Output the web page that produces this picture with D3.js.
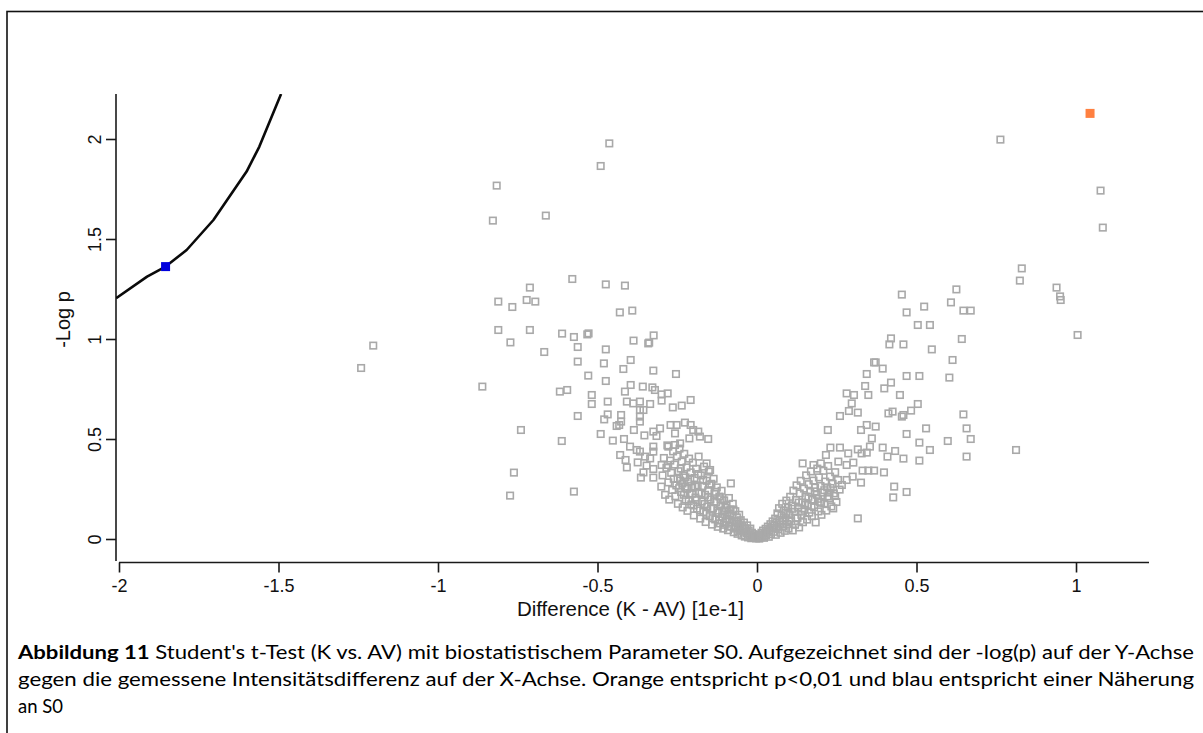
<!DOCTYPE html>
<html>
<head>
<meta charset="utf-8">
<script src="https://cdn.jsdelivr.net/npm/d3@7"></script>
<style>
  html, body { margin: 0; padding: 0; background: #fff; }
  svg { display: block; }
</style>
</head>
<body>
<svg id="chart" width="1203" height="733"></svg>
<script>
// Axis ticks
const xTicks = [-2, -1.5, -1, -0.5, 0, 0.5, 1];
const xTickLabels = ["-2", "-1.5", "-1", "-0.5", "0", "0.5", "1"];
const yTicks = [0, 0.5, 1, 1.5, 2];
const yTickLabels = ["0", "0.5", "1", "1.5", "2"];

// S0 threshold curve (difference, -log p)
const s0CurveX = [-2.009, -1.912, -1.854, -1.788, -1.704, -1.600, -1.560, -1.492];
const s0CurveY = [1.204, 1.312, 1.362, 1.445, 1.595, 1.837, 1.962, 2.225];

// highlighted proteins
const orangePoints = [[1.044, 2.128]];
const bluePoints = [[-1.854, 1.362]];

// proteins with negative difference: [difference, -log p]
const proteinsLeft = [
  [-1.241,0.855],[-1.203,0.967],[-0.861,0.762],
  [-0.463,1.978],[-0.490,1.865],[-0.816,1.767],[-0.828,1.592],[-0.662,1.617],
  [-0.579,1.300],[-0.712,1.257],[-0.474,1.273],[-0.414,1.267],
  [-0.811,1.187],[-0.767,1.160],[-0.722,1.195],[-0.695,1.187],[-0.430,1.133],[-0.391,1.142],
  [-0.811,1.045],[-0.712,1.045],[-0.611,1.027],[-0.574,1.010],[-0.532,1.023],[-0.528,1.028],
  [-0.387,0.992],[-0.324,1.018],[-0.341,0.978],[-0.338,0.982],[-0.773,0.983],[-0.562,0.960],
  [-0.474,0.948],[-0.667,0.935],
  [-0.562,0.887],[-0.480,0.878],[-0.396,0.895],[-0.419,0.850],[-0.325,0.842],[-0.254,0.825],
  [-0.529,0.817],[-0.474,0.790],
  [-0.618,0.737],[-0.595,0.745],[-0.518,0.720],[-0.518,0.675],[-0.468,0.687],[-0.396,0.770],
  [-0.358,0.762],[-0.414,0.737],[-0.328,0.758],[-0.320,0.745],[-0.299,0.723],[-0.280,0.728],
  [-0.299,0.692],[-0.408,0.687],[-0.388,0.678],[-0.367,0.687],[-0.335,0.675],[-0.367,0.645],
  [-0.356,0.645],[-0.264,0.658],[-0.236,0.667],[-0.208,0.695],
  [-0.562,0.615],[-0.468,0.623],[-0.479,0.598],[-0.426,0.620],[-0.426,0.587],[-0.440,0.565],
  [-0.432,0.570],[-0.367,0.612],[-0.367,0.587],
  [-0.740,0.545],[-0.612,0.490],[-0.490,0.525],[-0.452,0.492],[-0.417,0.500],[-0.386,0.545],
  [-0.353,0.518],[-0.325,0.537],[-0.304,0.553],[-0.315,0.515],
  [-0.271,0.570],[-0.252,0.570],[-0.226,0.582],[-0.208,0.570],[-0.257,0.528],[-0.200,0.545],
  [-0.184,0.537],[-0.153,0.500],[-0.212,0.503],[-0.179,0.512],
  [-0.278,0.462],[-0.257,0.470],[-0.241,0.478],[-0.325,0.462],[-0.325,0.437],[-0.398,0.462],
  [-0.377,0.445],[-0.367,0.437],
  [-0.429,0.420],[-0.412,0.395],[-0.408,0.358],[-0.374,0.383],[-0.351,0.412],[-0.335,0.403],
  [-0.346,0.367],[-0.325,0.350],[-0.364,0.307],[-0.325,0.307],[-0.356,0.333],[-0.299,0.370],
  [-0.280,0.370],
  [-0.082,0.278],[-0.158,0.378],[-0.147,0.345],[-0.774,0.217],[-0.762,0.332],[-0.574,0.237],
  // dense arm towards zero
  [-0.300,0.262],[-0.296,0.318],[-0.292,0.405],[-0.288,0.221],[-0.284,0.356],[-0.281,0.468],
  [-0.278,0.283],[-0.275,0.197],[-0.272,0.392],[-0.269,0.331],[-0.266,0.245],[-0.263,0.438],
  [-0.261,0.301],[-0.258,0.372],[-0.256,0.214],[-0.253,0.268],[-0.251,0.413],[-0.248,0.176],
  [-0.246,0.339],[-0.243,0.452],[-0.241,0.292],[-0.238,0.235],[-0.236,0.387],[-0.233,0.158],
  [-0.231,0.318],[-0.228,0.426],[-0.226,0.262],[-0.223,0.197],[-0.221,0.358],[-0.218,0.141],
  [-0.216,0.287],[-0.213,0.402],[-0.211,0.228],[-0.208,0.333],[-0.206,0.173],[-0.203,0.256],
  [-0.201,0.382],[-0.198,0.118],[-0.196,0.305],[-0.193,0.207],[-0.191,0.351],[-0.188,0.152],
  [-0.186,0.268],[-0.183,0.412],[-0.181,0.231],[-0.178,0.102],[-0.176,0.318],[-0.173,0.187],
  [-0.171,0.264],[-0.168,0.135],[-0.166,0.362],[-0.163,0.221],[-0.161,0.085],[-0.158,0.291],
  [-0.156,0.162],[-0.153,0.243],[-0.151,0.337],[-0.148,0.114],[-0.146,0.198],[-0.143,0.276],
  [-0.141,0.072],[-0.138,0.152],[-0.136,0.301],[-0.133,0.226],[-0.131,0.098],[-0.128,0.184],
  [-0.126,0.258],[-0.123,0.061],[-0.121,0.131],[-0.118,0.212],[-0.116,0.078],[-0.113,0.167],
  [-0.111,0.241],[-0.108,0.112],[-0.106,0.052],[-0.103,0.193],[-0.101,0.143],[-0.098,0.086],
  [-0.096,0.168],[-0.093,0.121],[-0.091,0.044],[-0.088,0.205],[-0.086,0.097],[-0.083,0.148],
  [-0.081,0.062],[-0.078,0.118],[-0.076,0.176],[-0.073,0.034],[-0.071,0.089],[-0.068,0.139],
  [-0.066,0.058],[-0.063,0.108],[-0.061,0.026],[-0.058,0.078],[-0.056,0.121],[-0.053,0.045],
  [-0.051,0.094],[-0.048,0.018],[-0.046,0.066],[-0.043,0.037],[-0.041,0.082],[-0.038,0.012],
  [-0.036,0.054],[-0.033,0.028],[-0.031,0.068],[-0.028,0.008],[-0.026,0.042],[-0.023,0.019],
  [-0.021,0.052],[-0.018,0.004],[-0.016,0.031],[-0.013,0.012],[-0.011,0.024],[-0.008,0.006],
  [-0.006,0.015],[-0.003,0.003],[-0.001,0.009],
  [-0.249,0.301],[-0.244,0.254],[-0.239,0.352],[-0.234,0.277],[-0.229,0.221],[-0.224,0.308],
  [-0.219,0.251],[-0.214,0.189],[-0.209,0.297],[-0.204,0.227],[-0.199,0.168],[-0.194,0.262],
  [-0.189,0.194],[-0.184,0.325],[-0.179,0.143],[-0.174,0.227],[-0.169,0.296],[-0.164,0.175],
  [-0.159,0.126],[-0.154,0.209],[-0.149,0.271],[-0.144,0.153],[-0.139,0.104],[-0.134,0.187],
  [-0.129,0.236],[-0.124,0.142],[-0.119,0.093],[-0.114,0.199],[-0.109,0.137],[-0.104,0.071],
  [-0.099,0.156],[-0.094,0.101],[-0.089,0.063],[-0.084,0.127],[-0.079,0.083],[-0.074,0.147],
  [-0.069,0.052],[-0.064,0.087],[-0.059,0.039],[-0.054,0.069]
];

// proteins with positive difference: [difference, -log p]
const proteinsRight = [
  [0.952,1.195],[0.469,1.133],[0.524,1.162],[0.608,1.183],[0.647,1.142],[0.670,1.142],
  [0.504,1.070],[0.542,1.070],[0.420,1.003],[0.415,0.973],[0.459,0.973],[0.548,0.948],
  [0.642,1.000],[1.005,1.020],[0.613,0.895],[0.367,0.883],[0.372,0.883],[0.394,0.852],
  [0.344,0.825],[0.469,0.815],[0.509,0.815],[0.603,0.807],[0.339,0.765],[0.349,0.720],
  [0.420,0.782],[0.399,0.753],[0.448,0.720],[0.281,0.728],[0.304,0.720],[0.297,0.678],
  [0.288,0.640],[0.316,0.632],[0.260,0.615],[0.412,0.628],[0.425,0.637],[0.454,0.612],
  [0.459,0.620],[0.483,0.642],[0.504,0.675],[0.647,0.623],[0.222,0.545],[0.326,0.545],
  [0.344,0.570],[0.372,0.562],[0.469,0.525],[0.530,0.553],[0.657,0.553],[0.670,0.500],
  [0.509,0.482],[0.542,0.445],[0.598,0.490],[0.657,0.412],[0.509,0.392],[0.812,0.445],
  [0.360,0.503],[0.354,0.462],[0.344,0.432],[0.328,0.428],[0.316,0.448],[0.394,0.457],
  [0.409,0.412],[0.433,0.440],[0.459,0.402],[0.331,0.342],[0.349,0.342],[0.367,0.342],
  [0.398,0.333],[0.430,0.262],[0.427,0.208],[0.469,0.235],[0.316,0.103],[0.143,0.378],
  [0.177,0.370],[0.200,0.378],
  [0.763,1.997],[1.077,1.742],[1.084,1.557],[0.830,1.353],[0.824,1.292],[0.939,1.257],
  [0.950,1.213],[0.454,1.222],[0.625,1.248],
  [0.230,0.457],[0.260,0.457],[0.286,0.428],[0.216,0.420],[0.255,0.387],[0.281,0.370],
  [0.302,0.382],[0.266,0.270],[0.281,0.295],[0.300,0.312],[0.326,0.282],[0.239,0.153],
  [0.245,0.215],[0.227,0.232],
  // dense arm away from zero
  [0.002,0.005],[0.004,0.014],[0.007,0.002],[0.009,0.021],[0.012,0.009],[0.014,0.031],
  [0.017,0.016],[0.019,0.042],[0.022,0.006],[0.024,0.027],[0.027,0.051],[0.029,0.018],
  [0.032,0.036],[0.034,0.062],[0.037,0.011],[0.039,0.046],[0.042,0.074],[0.044,0.025],
  [0.047,0.055],[0.049,0.088],[0.052,0.036],[0.054,0.067],[0.057,0.102],[0.059,0.021],
  [0.062,0.081],[0.064,0.128],[0.067,0.049],[0.069,0.154],[0.072,0.094],[0.074,0.031],
  [0.077,0.118],[0.079,0.176],[0.082,0.062],[0.084,0.141],[0.087,0.041],[0.089,0.104],
  [0.092,0.192],[0.094,0.075],[0.097,0.157],[0.099,0.052],[0.102,0.123],[0.104,0.211],
  [0.107,0.088],[0.109,0.168],[0.112,0.043],[0.114,0.242],[0.117,0.136],[0.119,0.071],
  [0.122,0.195],[0.124,0.268],[0.127,0.106],[0.129,0.157],[0.132,0.058],[0.134,0.228],
  [0.137,0.291],[0.139,0.121],[0.142,0.183],[0.144,0.084],[0.147,0.252],[0.149,0.146],
  [0.152,0.212],[0.154,0.318],[0.157,0.097],[0.159,0.171],[0.162,0.274],[0.164,0.132],
  [0.167,0.235],[0.169,0.338],[0.172,0.114],[0.174,0.196],[0.177,0.292],[0.179,0.158],
  [0.182,0.257],[0.184,0.083],[0.187,0.221],[0.189,0.352],[0.192,0.138],[0.194,0.308],
  [0.197,0.186],[0.199,0.265],[0.202,0.121],[0.205,0.232],[0.208,0.341],[0.211,0.178],
  [0.214,0.287],[0.217,0.142],[0.220,0.258],[0.223,0.365],[0.226,0.204],[0.229,0.312],
  [0.233,0.163],[0.237,0.276],[0.241,0.228],[0.245,0.334],[0.249,0.185],[0.254,0.295],
  [0.259,0.247],
  [0.061,0.058],[0.071,0.072],[0.081,0.088],[0.091,0.131],[0.101,0.094],[0.111,0.151],
  [0.121,0.106],[0.131,0.182],[0.141,0.137],[0.151,0.171],[0.161,0.211],[0.171,0.165],
  [0.181,0.238],[0.191,0.201],[0.201,0.181],[0.211,0.244],[0.221,0.213],[0.231,0.255]
];

// Figure caption lines
const captionBold = "Abbildung 11";
const captionLine1 = " Student's t-Test (K vs. AV) mit biostatistischem Parameter S0. Aufgezeichnet sind der -log(p) auf der Y-Achse";
const captionLine2 = "gegen die gemessene Intensitätsdifferenz auf der X-Achse. Orange entspricht p<0,01 und blau entspricht einer Näherung";
const captionLine3 = "an S0";

const xLabel = "Difference (K - AV) [1e-1]";
const yLabel = "-Log p";

const svg = d3.select("#chart");

// frame around the figure
svg.append("rect")
  .attr("x", 7).attr("y", 11.5)
  .attr("width", 1210).attr("height", 740)
  .attr("fill", "none").attr("stroke", "#111").attr("stroke-width", 1.6);

const plot = { left: 116, right: 1149, top: 94, bottom: 561 };

const x = d3.scaleLinear().domain([-2.0094, 1.2288]).range([plot.left, plot.right]);
const y = d3.scaleLinear().domain([-0.11, 2.225]).range([plot.bottom, plot.top]);

const axisColor = "#1a1a1a";
const tickFont = "Liberation Sans, Arial, sans-serif";

// y axis
const yAxis = svg.append("g")
  .attr("transform", `translate(${plot.left},0)`)
  .call(d3.axisLeft(y).tickValues(yTicks).tickSize(10).tickFormat((d, i) => yTickLabels[i]));
yAxis.select(".domain").remove();
yAxis.selectAll(".tick line").attr("stroke", axisColor).attr("stroke-width", 1.6);
yAxis.selectAll(".tick text")
  .attr("x", null).attr("dy", null)
  .attr("transform", "translate(-15.5,0) rotate(-90)")
  .attr("text-anchor", "middle")
  .attr("fill", "#111")
  .style("font-family", tickFont).style("font-size", "18px");
svg.append("line")
  .attr("x1", plot.left).attr("x2", plot.left)
  .attr("y1", plot.bottom).attr("y2", plot.top)
  .attr("stroke", axisColor).attr("stroke-width", 1.6);

// x axis
const xAxisY = plot.bottom + 1.5;
const xAxis = svg.append("g")
  .attr("transform", `translate(0,${xAxisY})`)
  .call(d3.axisBottom(x).tickValues(xTicks).tickSize(10).tickFormat((d, i) => xTickLabels[i]));
xAxis.select(".domain").remove();
xAxis.selectAll(".tick line").attr("stroke", axisColor).attr("stroke-width", 1.6);
xAxis.selectAll(".tick text")
  .attr("y", 29).attr("dy", null)
  .attr("fill", "#111")
  .style("font-family", tickFont).style("font-size", "18px");
svg.append("line")
  .attr("x1", x(xTicks[0])).attr("x2", plot.right)
  .attr("y1", xAxisY).attr("y2", xAxisY)
  .attr("stroke", axisColor).attr("stroke-width", 1.6);

// axis titles
svg.append("text")
  .attr("x", (plot.left + plot.right) / 2 - 2).attr("y", 616)
  .attr("text-anchor", "middle").attr("fill", "#111")
  .style("font-family", tickFont).style("font-size", "20.5px")
  .text(xLabel);
svg.append("text")
  .attr("transform", `translate(70,${(plot.top + plot.bottom) / 2 - 8}) rotate(-90)`)
  .attr("text-anchor", "middle").attr("fill", "#111")
  .style("font-family", tickFont).style("font-size", "20px")
  .text(yLabel);

// clip to plotting area
svg.append("clipPath").attr("id", "plotClip")
  .append("rect")
  .attr("x", plot.left).attr("y", plot.top)
  .attr("width", plot.right - plot.left).attr("height", plot.bottom - plot.top);

const marks = svg.append("g").attr("clip-path", "url(#plotClip)");

// proteins
const sq = 6.5;
marks.append("g").selectAll("rect")
  .data(proteinsLeft.concat(proteinsRight))
  .join("rect")
  .attr("x", d => x(d[0]) - sq / 2)
  .attr("y", d => y(d[1]) - sq / 2)
  .attr("width", sq).attr("height", sq)
  .attr("fill", "none")
  .attr("stroke", "#a9a9a9")
  .attr("stroke-width", 1.6);

// S0 curve
const curveData = s0CurveX.map((v, i) => [v, s0CurveY[i]]);
marks.append("path")
  .datum(curveData)
  .attr("d", d3.line().x(d => x(d[0])).y(d => y(d[1])))
  .attr("fill", "none").attr("stroke", "#0a0a0a").attr("stroke-width", 2.6)
  .attr("stroke-linejoin", "round");

// highlighted markers
const big = 9;
marks.append("g").selectAll("rect")
  .data(bluePoints)
  .join("rect")
  .attr("x", d => x(d[0]) - big / 2).attr("y", d => y(d[1]) - big / 2)
  .attr("width", big).attr("height", big)
  .attr("fill", "#0000dd");
marks.append("g").selectAll("rect")
  .data(orangePoints)
  .join("rect")
  .attr("x", d => x(d[0]) - big / 2).attr("y", d => y(d[1]) - big / 2)
  .attr("width", big).attr("height", big)
  .attr("fill", "#ff8040");

// caption
const capFont = "Lato, 'Open Sans', sans-serif";
const capSize = "18.5px";
const capLeft = 18, capRight = 1194;
const cap1 = svg.append("text")
  .attr("x", capLeft).attr("y", 659)
  .attr("textLength", capRight - capLeft).attr("lengthAdjust", "spacingAndGlyphs")
  .attr("fill", "#000")
  .style("font-family", capFont).style("font-size", capSize);
cap1.append("tspan").style("font-weight", "bold").text(captionBold);
cap1.append("tspan").text(captionLine1);
svg.append("text")
  .attr("x", capLeft).attr("y", 686)
  .attr("textLength", capRight - capLeft).attr("lengthAdjust", "spacingAndGlyphs")
  .attr("fill", "#000")
  .style("font-family", capFont).style("font-size", capSize)
  .text(captionLine2);
svg.append("text")
  .attr("x", capLeft).attr("y", 713)
  .attr("fill", "#000")
  .style("font-family", capFont).style("font-size", capSize)
  .text(captionLine3);
</script>
</body>
</html>
